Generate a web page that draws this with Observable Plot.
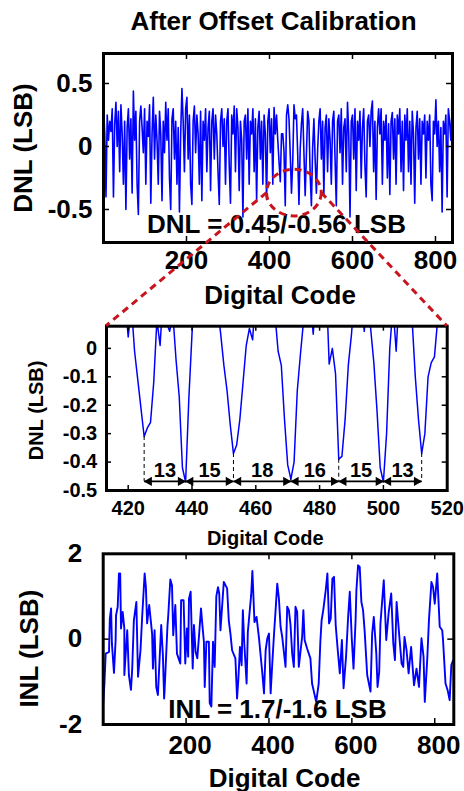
<!DOCTYPE html>
<html><head><meta charset="utf-8">
<script src="https://cdn.jsdelivr.net/npm/d3@7"></script>
<script src="https://cdn.jsdelivr.net/npm/@observablehq/plot@0.6"></script>
<style>
html,body{margin:0;padding:0;background:#fff;}
#wrap{position:relative;width:464px;height:791px;overflow:hidden;background:#fff;}
#wrap svg{position:absolute;left:0;}
</style></head><body><div id="wrap"></div>
<script>
// ---------- text ----------
const titleText = ["After Offset Calibration"];
const xTitle = ["Digital Code"];
const dnlTitle = ["DNL (LSB)"];
const inlTitle = ["INL (LSB)"];
const dnlAnnot = ["DNL = 0.45/-0.56 LSB"];
const inlAnnot = ["INL = 1.7/-1.6 LSB"];

// ---------- top panel: DNL over all codes (sampled every 3 codes) ----------
const dnlCodes = d3.range(0, 841, 3);
const dnlValues = [
0.33,0.1,-0.4,0.25,0.05,0.2,0.12,0.3,-0.4,0.18,
0.35,0.0,0.28,-0.2,0.33,0.1,-0.3,0.2,-0.5,0.15,
0.3,-0.1,0.22,-0.37,0.44,0.05,0.28,-0.3,-0.54,0.2,
0.32,0.15,-0.05,0.3,-0.3,0.2,0.08,0.33,-0.45,0.1,
0.39,-0.1,0.25,0.05,-0.3,0.28,0.1,-0.43,0.2,-0.05,
0.35,0.05,0.3,-0.25,-0.5,0.22,0.3,-0.1,0.2,-0.3,
0.15,-0.52,0.1,0.46,0.2,-0.2,0.3,0.39,-0.1,0.25,
-0.3,-0.46,0.2,0.32,-0.05,0.25,0.1,-0.3,0.28,-0.43,
0.2,0.05,0.3,-0.2,0.15,0.28,-0.35,0.2,0.3,-0.1,
0.25,0.1,-0.2,-0.46,0.2,0.3,0.0,0.22,-0.3,0.2,
0.3,-0.15,-0.45,0.25,0.1,0.32,-0.2,0.3,0.15,-0.35,
0.2,0.05,-0.56,0.2,0.25,-0.1,0.3,-0.3,0.2,0.1,
0.3,-0.2,0.22,-0.43,0.15,0.28,-0.1,0.2,-0.3,0.25,
0.1,-0.42,0.2,0.3,-0.05,0.22,-0.3,0.31,0.1,0.25,
0.05,-0.12,-0.28,0.1,0.1,-0.04,-0.47,0.25,0.33,0.22,
-0.06,-0.37,-0.12,0.33,0.22,0.25,-0.06,-0.46,-0.02,0.18,
0.3,-0.05,-0.39,-0.06,0.28,0.2,-0.22,-0.47,-0.01,0.22,
-0.1,-0.37,-0.03,0.2,0.3,-0.1,0.2,-0.38,0.15,0.25,
-0.2,0.22,0.05,-0.3,0.2,0.28,-0.1,-0.47,0.2,0.25,
-0.05,0.3,-0.3,0.15,0.22,-0.2,0.35,0.1,-0.56,0.2,
0.25,-0.1,0.3,-0.35,0.2,0.05,0.28,-0.25,0.15,0.3,
-0.15,-0.4,0.2,0.25,0.0,0.28,0.36,-0.2,0.2,-0.42,
0.15,0.3,0.1,0.3,-0.3,0.2,0.05,0.25,-0.25,0.18,
-0.38,0.2,0.27,-0.1,0.22,-0.3,0.25,0.1,0.3,-0.2,
0.2,-0.35,0.25,0.05,0.3,-0.2,0.2,-0.3,0.28,0.1,
-0.45,0.15,0.28,-0.1,0.22,-0.3,0.2,0.1,0.25,-0.25,
0.2,0.05,0.25,-0.3,-0.43,0.2,0.1,0.37,0.0,0.2,
-0.2,0.15,-0.52,0.2,0.1,0.25,-0.4,0.3,0.2,0.05,
0.3];
const topXTicks = [200, 400, 600, 800];
const topXLabels = ["200", "400", "600", "800"];
const topYTicks = [-0.5, 0, 0.5];
const topYLabels = ["-0.5", "0", "0.5"];

// zoom marker (ellipse on the top panel, in data units)
const ellipseCenter = [460, -0.37];   // code, DNL
const ellipseRadius = [66, 0.185];    // codes, LSB

// ---------- middle panel: DNL zoom, codes 413..520 ----------
const zoomCodes = d3.range(413, 521);
const zoomDnl = [
0.25,0.3,0.2,0.28,0.15,0.22,0.18,0.04,0.15,-0.01,
-0.11,-0.21,-0.31,-0.28,-0.26,-0.12,0.1,0.01,0.2,0.09,
0.06,0.12,-0.04,-0.17,-0.42,-0.47,-0.18,0.05,0.25,0.3,
0.2,0.33,0.18,0.26,0.22,0.15,0.05,-0.06,-0.15,-0.27,
-0.37,-0.34,-0.25,-0.12,0.01,0.07,0.03,0.2,0.28,0.22,
0.32,0.18,0.25,0.12,-0.01,-0.06,-0.25,-0.41,-0.46,-0.4,
-0.15,-0.02,0.1,0.25,0.18,0.05,0.22,0.3,0.2,0.25,
-0.055,0.0,-0.09,-0.39,-0.38,-0.25,-0.06,0.05,0.2,0.28,
0.18,0.06,0.2,0.07,-0.05,-0.22,-0.42,-0.47,-0.3,0.0,
0.15,-0.01,0.2,0.3,0.22,0.25,0.1,-0.1,-0.25,-0.37,
-0.3,-0.1,-0.05,-0.03,0.1,0.25,0.2,0.15];
const zoomDomain = [413.2, 520];
const zoomYDomain = [-0.5, 0.078];
const midXTicks = [420, 440, 460, 480, 500, 520];
const midXLabels = ["420", "440", "460", "480", "500", "520"];
const midYTicks = [0, -0.1, -0.2, -0.3, -0.4, -0.5];
const midYLabels = ["0", "-0.1", "-0.2", "-0.3", "-0.4", "-0.5"];
const dipCodes = [425, 438, 453, 471, 486, 500, 512];
const spacingLabels = ["13", "15", "18", "16", "15", "13"];
const arrowLevel = -0.468;
const spacingLabelLevel = -0.43;

// ---------- bottom panel: INL ----------
const inlCodes = [0,3,6,14,16,19,21,26,30,31,35,38,41,43,47,51,51,58,62,67,70,74,80,84,90,94,100,103,106,111,118,120,124,128,132,140,144,147,148,155,157,162,166,169,174,178,186,188,194,198,202,205,207,211,216,219,223,227,231,236,239,243,245,249,255,257,261,265,269,273,277,280,283,291,299,303,307,311,319,323,326,330,334,337,340,346,349,357,360,365,370,376,384,388,392,396,400,404,408,412,416,420,424,428,432,440,444,448,452,456,460,464,468,472,480,483,486,492,500,504,514,520,524,527,531,537,541,545,549,553,557,561,566,571,576,580,586,591,595,600,604,609,611,615,619,623,627,631,637,645,649,653,656,659,662,666,669,677,683,689,695,700,704,708,714,720,724,727,732,737,743,750,756,762,768,773,776,782,786,792,796,800,806,812,818,820,826,831,836,840,844];
const inlValues = [-1.5,-1.04,-0.34,-0.3,0.48,0.72,-0.1,-0.79,-0.02,0.56,0.76,1.54,1.54,0.25,0.64,0.25,-0.84,0.21,-0.84,-1.19,-0.69,0.44,0.87,-0.88,-0.26,0.52,1.54,1.22,0.37,0.8,0.13,-0.69,0.21,-1.12,-1.31,0.33,-0.37,-1.39,-1.23,0.29,0.56,1.4,1.26,0.09,0.8,-0.34,-0.57,0.91,0.91,-0.57,0.25,-0.41,0.95,1.11,-0.69,0.33,-0.3,-0.45,0.05,0.72,0.37,-0.06,-1.12,-0.06,-0.06,-1.5,-1.58,-0.06,-0.65,1.01,1.22,1.07,0.21,1.34,1.19,0.44,0.13,-0.26,-0.45,-1.39,-0.96,-0.18,-0.61,0.68,-0.02,-1.04,0.17,1.03,1.6,0.4,0.52,0.02,-0.8,-1.27,-0.26,0.02,0.13,-1.27,-0.57,0.09,0.68,1.3,0.95,0.29,0.05,-0.65,0.76,0.68,0.33,-0.34,-0.65,0.76,0.64,-0.65,0.05,0.68,-0.02,-0.22,-0.45,-1.04,-1.47,-1.04,-0.06,0.44,0.68,1.15,1.54,0.37,0.48,1.42,1.46,0.33,-0.26,-0.8,-0.02,-1.15,-0.41,0.52,1.11,-0.02,-0.69,0.44,1.15,1.73,1.69,0.87,0.68,0.17,-0.84,-1.23,0.13,0.52,0.09,-0.34,-1.12,-0.77,0.37,1.38,-0.02,0.64,1.07,-0.1,-0.49,0.87,0.13,-0.57,-0.65,0.05,-0.26,-0.8,-0.18,-1.08,-0.69,-1.12,0.02,-0.41,-1.47,-0.45,0.44,1.34,1.22,0.83,1.54,0.29,0.21,-0.02,-1.04,-1.19,-1.43,-0.61,-0.5];
const botXTicks = [200, 400, 600, 800];
const botXLabels = ["200", "400", "600", "800"];
const botYTicks = [-2, 0, 2];
const botYLabels = ["-2", "0", "2"];

// ---------- styling ----------
const BLUE = "#0000ff";
const RED = "#c8141e";
const FONT = "'Liberation Sans', Arial, Helvetica, sans-serif";
const W = 464;
const wrap = document.getElementById("wrap");
const lab = (labels, ticks) => d => labels[ticks.indexOf(d)];

function inwardTicks(xt, yt, fw, fh, len) {
  const o = {stroke: "black", strokeWidth: 1.5};
  return [
    Plot.tickX(xt, {x: d => d, insetTop: fh - len, ...o}),
    Plot.tickX(xt, {x: d => d, insetBottom: fh - len, ...o}),
    Plot.tickY(yt, {y: d => d, insetRight: fw - len, ...o}),
    Plot.tickY(yt, {y: d => d, insetLeft: fw - len, ...o})
  ];
}

// ---------- top plot ----------
const T = {top: 0, h: 320, ml: 103, mr: 12, mt: 53, mb: 78};
const topPlot = Plot.plot({
  width: W, height: T.h,
  marginLeft: T.ml, marginRight: T.mr, marginTop: T.mt, marginBottom: T.mb,
  x: {domain: [0, 841]},
  y: {domain: [-0.762, 0.738]},
  style: {fontFamily: FONT, fontSize: "26px", fontWeight: "bold", background: "transparent", overflow: "visible", color: "black"},
  marks: [
    Plot.line(dnlValues, {x: (d, i) => dnlCodes[i], y: d => d, stroke: BLUE, strokeWidth: 1.6}),
    ...inwardTicks(topXTicks, topYTicks, W - T.ml - T.mr, T.h - T.mt - T.mb, 6),
    Plot.axisX(topXTicks, {anchor: "bottom", tickSize: 0, tickPadding: 8, tickFormat: lab(topXLabels, topXTicks), label: null}),
    Plot.axisY(topYTicks, {anchor: "left", tickSize: 0, tickPadding: 11, tickFormat: lab(topYLabels, topYTicks), label: null}),
    Plot.text(xTitle, {text: d => d, frameAnchor: "bottom", dy: 61, dx: 2, lineAnchor: "bottom"}),
    Plot.text(dnlTitle, {text: d => d, frameAnchor: "left", textAnchor: "middle", rotate: -90, dx: -90, lineAnchor: "top"}),
    Plot.text(titleText, {text: d => d, frameAnchor: "top", dy: -23.7, dx: -4.5, lineAnchor: "bottom"}),
    Plot.text(dnlAnnot, {text: d => d, frameAnchor: "bottom", dy: -9.3, dx: -1.5, lineAnchor: "bottom"}),
    Plot.frame({stroke: "black", strokeWidth: 3})
  ]
});
topPlot.style.top = T.top + "px";
wrap.appendChild(topPlot);

// ---------- middle plot ----------
const M = {top: 310, h: 240, ml: 106, mr: 17.3, mt: 15.7, mb: 60};
const midPlot = Plot.plot({
  width: W, height: M.h,
  marginLeft: M.ml, marginRight: M.mr, marginTop: M.mt, marginBottom: M.mb,
  x: {domain: zoomDomain},
  y: {domain: zoomYDomain},
  style: {fontFamily: FONT, fontSize: "20px", fontWeight: "bold", background: "transparent", overflow: "visible", color: "black"},
  marks: [
    Plot.line(zoomDnl, {x: (d, i) => zoomCodes[i], y: d => d, stroke: BLUE, strokeWidth: 1.5, clip: true}),
    Plot.ruleX(dipCodes, {x: d => d, y1: d => zoomDnl[zoomCodes.indexOf(d)], y2: arrowLevel, stroke: "black", strokeWidth: 1, strokeDasharray: "4,3"}),
    Plot.link(spacingLabels, {x1: (d, i) => dipCodes[i], x2: (d, i) => dipCodes[i + 1], y1: arrowLevel, y2: arrowLevel, stroke: "black", strokeWidth: 1.6}),
    Plot.dot(spacingLabels, {x: (d, i) => dipCodes[i], y: arrowLevel, symbol: "triangle", rotate: -90, r: 3.5, fill: "black", stroke: "none", dx: 5}),
    Plot.dot(spacingLabels, {x: (d, i) => dipCodes[i + 1], y: arrowLevel, symbol: "triangle", rotate: 90, r: 3.5, fill: "black", stroke: "none", dx: -5}),
    Plot.text(spacingLabels, {x: (d, i) => (dipCodes[i] + dipCodes[i + 1]) / 2, y: spacingLabelLevel, text: d => d, lineAnchor: "middle"}),
    ...inwardTicks(midXTicks, midYTicks, W - M.ml - M.mr, M.h - M.mt - M.mb, 5),
    Plot.axisX(midXTicks, {anchor: "bottom", tickSize: 0, tickPadding: 10, tickFormat: lab(midXLabels, midXTicks), label: null}),
    Plot.axisY(midYTicks, {anchor: "left", tickSize: 0, tickPadding: 9.3, tickFormat: lab(midYLabels, midYTicks), label: null}),
    Plot.text(xTitle, {text: d => d, frameAnchor: "bottom", dy: 54, dx: -11.6, lineAnchor: "bottom"}),
    Plot.text(dnlTitle, {text: d => d, frameAnchor: "left", textAnchor: "middle", rotate: -90, dx: -77.5, dy: 2, lineAnchor: "top"}),
    Plot.frame({stroke: "black", strokeWidth: 3})
  ]
});
midPlot.style.top = M.top + "px";
wrap.appendChild(midPlot);

// ---------- bottom plot ----------
const B = {top: 540, h: 251, ml: 102.7, mr: 10.7, mt: 13.3, mb: 67};
const botPlot = Plot.plot({
  width: W, height: B.h,
  marginLeft: B.ml, marginRight: B.mr, marginTop: B.mt, marginBottom: B.mb,
  x: {domain: [0, 846]},
  y: {domain: [-2, 2]},
  style: {fontFamily: FONT, fontSize: "26px", fontWeight: "bold", background: "transparent", overflow: "visible", color: "black"},
  marks: [
    Plot.line(inlValues, {x: (d, i) => inlCodes[i], y: d => d, stroke: BLUE, strokeWidth: 1.9}),
    ...inwardTicks(botXTicks, botYTicks, W - B.ml - B.mr, B.h - B.mt - B.mb, 6),
    Plot.axisX(botXTicks, {anchor: "bottom", tickSize: 0, tickPadding: 11, dx: 4, tickFormat: lab(botXLabels, botXTicks), label: null}),
    Plot.axisY(botYTicks, {anchor: "left", tickSize: 0, tickPadding: 21, tickFormat: lab(botYLabels, botYTicks), label: null}),
    Plot.text(xTitle, {text: d => d, frameAnchor: "bottom", dy: 62, dx: 6, lineAnchor: "bottom"}),
    Plot.text(inlTitle, {text: d => d, frameAnchor: "left", textAnchor: "middle", rotate: -90, dx: -83.4, dy: 9.5, lineAnchor: "top"}),
    Plot.text(inlAnnot, {text: d => d, frameAnchor: "bottom", dy: -7, dx: -1, lineAnchor: "bottom"}),
    Plot.frame({stroke: "black", strokeWidth: 3})
  ]
});
botPlot.style.top = B.top + "px";
wrap.appendChild(botPlot);

// ---------- zoom connectors (using the plots' own scales) ----------
const tx = topPlot.scale("x"), ty = topPlot.scale("y");
const mx = midPlot.scale("x"), my = midPlot.scale("y");
const cx = tx.apply(ellipseCenter[0]), cy = T.top + ty.apply(ellipseCenter[1]);
const rx = tx.apply(ellipseCenter[0] + ellipseRadius[0]) - cx;
const ry = Math.abs(ty.apply(ellipseCenter[1] + ellipseRadius[1]) - ty.apply(ellipseCenter[1]));
const cornerY = M.top + my.apply(zoomYDomain[1]);
const leftX = mx.apply(zoomDomain[0]), rightX = mx.apply(zoomDomain[1]);

const ov = d3.select(wrap).append("svg")
  .attr("width", W).attr("height", 791).style("top", "0px").style("pointer-events", "none");
const dash = {stroke: RED, "stroke-width": 3, "stroke-dasharray": "7,5", fill: "none"};
const el = ov.append("ellipse").attr("cx", cx).attr("cy", cy).attr("rx", rx).attr("ry", ry);
const l1 = ov.append("line").attr("x1", cx - rx).attr("y1", cy).attr("x2", leftX).attr("y2", cornerY);
const l2 = ov.append("line").attr("x1", cx + rx).attr("y1", cy).attr("x2", rightX).attr("y2", cornerY);
for (const s of [el, l1, l2]) for (const k in dash) s.attr(k, dash[k]);
</script>
</body></html>
